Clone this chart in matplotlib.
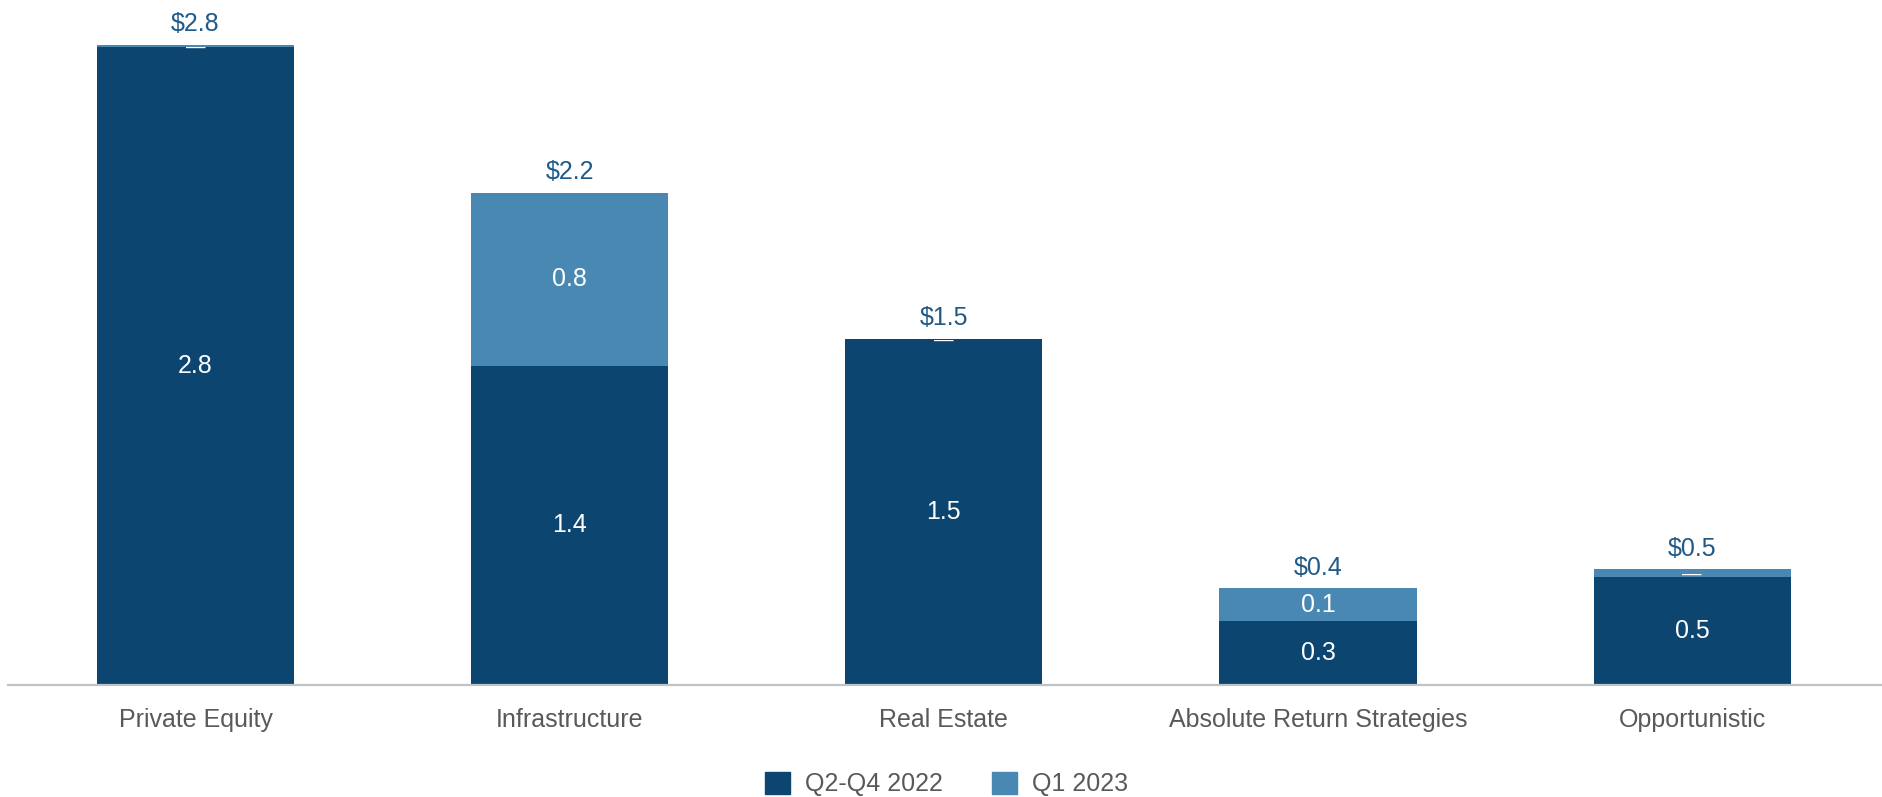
import matplotlib
matplotlib.use('Agg')
import matplotlib.pyplot as plt
import matplotlib.patches as mpatches
import numpy as np

plt.rcParams['font.family'] = ['Liberation Sans', 'DejaVu Sans']

DARK, LIGHT = '#0c4570', '#4a88b4'
TOTAL_C, CAT_C, AXIS_C = '#1f5a88', '#595959', '#bfc3c7'

# ── Data ──────────────────────────────────────────────────────
categories = ['Private Equity', 'Infrastructure', 'Real Estate',
              'Absolute Return Strategies', 'Opportunistic']
q2_q4_2022 = [2.80, 1.40, 1.52, 0.28, 0.475]
q1_2023    = [0.01, 0.76, 0.00, 0.146, 0.034]
series_names = ['Q2-Q4 2022', 'Q1 2023']

a = np.array(q2_q4_2022)
b = np.array(q1_2023)
tot = a + b
xs = np.arange(len(categories))

fig = plt.figure(figsize=(18.83, 7.97), dpi=100)
ax = fig.add_axes([8 / 1883, 0.1405, 1 - 8 / 1883, 0.858])

W = 0.527
ax.bar(xs, a, W, color=DARK)
ax.bar(xs, b, W, bottom=a, color=LIGHT)

def seg_label(ax, x, y, v):
    if round(v, 1) > 0:
        ax.text(x, y, f'{v:.1f}', ha='center', va='center', color='white', fontsize=18)
    else:
        # zero-ish segment: Excel-style dash
        ax.annotate('\u2014', xy=(x, y), xytext=(0, -1.2), textcoords='offset points',
                    ha='center', va='center', color='white', fontsize=14)

for x, va_, vb_, t in zip(xs, a, b, tot):
    seg_label(ax, x, va_ / 2, va_)
    seg_label(ax, x, va_ + vb_ / 2, vb_)
    ax.annotate(f'${t:.1f}', xy=(x, t), xytext=(0, 6), textcoords='offset points',
                ha='center', va='bottom', color=TOTAL_C, fontsize=18)

ax.set_xlim(-0.501, 4.51)
ax.set_ylim(0, 3.0)
ax.set_xticks(xs)
ax.set_xticklabels(categories, fontsize=18, color=CAT_C)
ax.tick_params(axis='x', length=0, pad=16.5)
ax.set_yticks([])
for s in ['top', 'right', 'left']:
    ax.spines[s].set_visible(False)
ax.spines['bottom'].set_color(AXIS_C)
ax.spines['bottom'].set_linewidth(1.6)
ax.set_facecolor('none')

handles = [mpatches.Patch(color=DARK), mpatches.Patch(color=LIGHT)]
fig.legend(handles, series_names, loc='center', bbox_to_anchor=(0.5027, 0.0163),
           ncol=2, frameon=False, fontsize=18, labelcolor=CAT_C,
           handlelength=1.0, handleheight=1.0, handletextpad=0.6,
           columnspacing=2.0, borderpad=0, borderaxespad=0)

fig.savefig('out.png', dpi=100, facecolor='white')
